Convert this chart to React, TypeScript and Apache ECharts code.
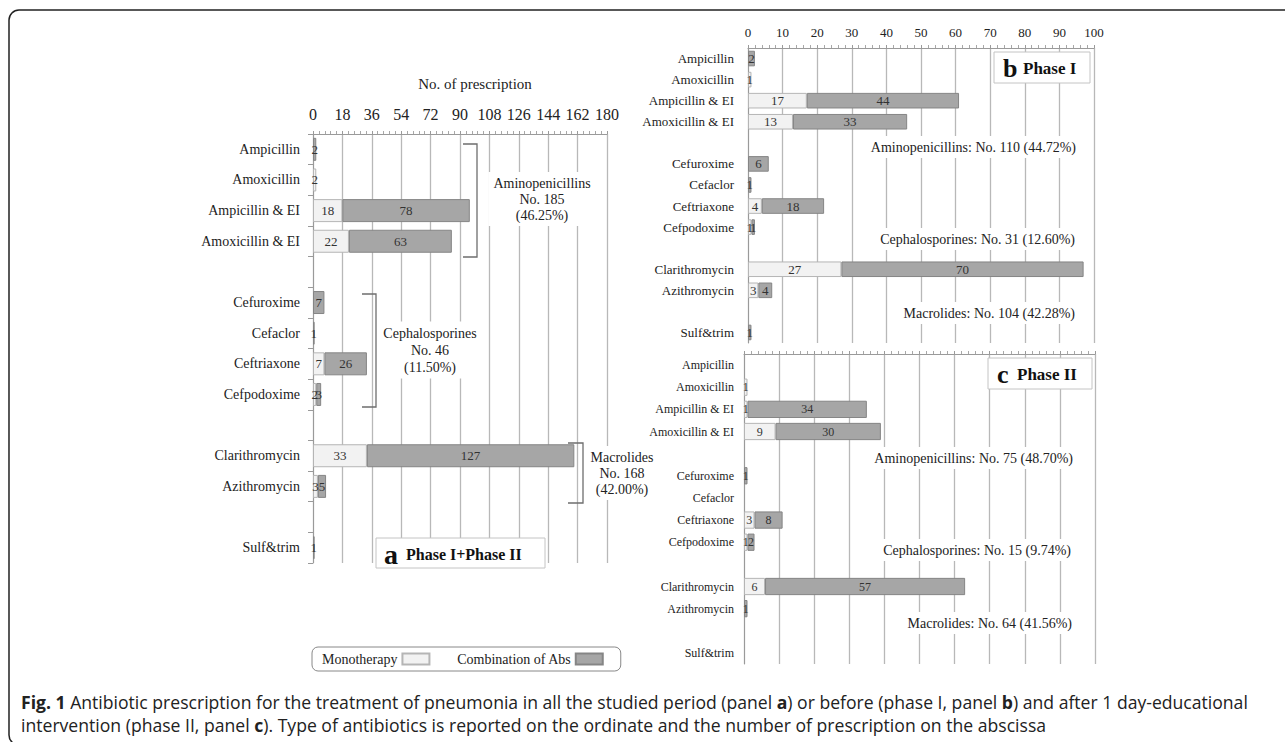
import React, { useEffect, useRef } from "react";
import * as echarts from "echarts";

// ---------- data ----------
const categories = [
  "Ampicillin",
  "Amoxicillin",
  "Ampicillin & EI",
  "Amoxicillin & EI",
  " ",
  "Cefuroxime",
  "Cefaclor",
  "Ceftriaxone",
  "Cefpodoxime",
  "  ",
  "Clarithromycin",
  "Azithromycin",
  "   ",
  "Sulf&trim",
];

const monoA = [null, 2, 18, 22, null, null, null, 7, 2, null, 33, 3, null, null];
const comboA = [2, null, 78, 63, null, 7, 1, 26, 3, null, 127, 5, null, 1];
const monoB = [null, 1, 17, 13, null, null, null, 4, 1, null, 27, 3, null, null];
const comboB = [2, null, 44, 33, null, 6, 1, 18, 1, null, 70, 4, null, 1];
const monoC = [null, 1, 1, 9, null, null, null, 3, 1, null, 6, null, null, null];
const comboC = [null, null, 34, 30, null, 1, null, 8, 2, null, 57, 1, null, null];

const ticksA = { min: 0, max: 180, interval: 18 };
const ticksBC = { min: 0, max: 100, interval: 10 };

const groupTextA = [
  "Aminopenicillins\nNo. 185\n(46.25%)",
  "Cephalosporines\nNo. 46\n(11.50%)",
  "Macrolides\nNo. 168\n(42.00%)",
];
const groupTextB = [
  "Aminopenicillins: No. 110 (44.72%)",
  "Cephalosporines: No. 31 (12.60%)",
  "Macrolides: No. 104 (42.28%)",
];
const groupTextC = [
  "Aminopenicillins: No. 75 (48.70%)",
  "Cephalosporines: No. 15 (9.74%)",
  "Macrolides: No. 64 (41.56%)",
];

// ---------- styles ----------
const SERIF = '"Liberation Serif", "Times New Roman", serif';
const SANS = '"Open Sans", "Noto Sans", sans-serif';
const MONO_COLOR = "#f2f2f2";
const MONO_BORDER = "#b5b5b5";
const COMBO_COLOR = "#a6a6a6";
const COMBO_BORDER = "#858585";
const GRID_LINE = "#b8b8b8";

function xAxis(gridIndex: number, t: any, fontSize: number, margin: number, showLabel: boolean) {
  return {
    gridIndex,
    type: "value",
    position: "top",
    min: t.min,
    max: t.max,
    interval: t.interval,
    axisLabel: { show: showLabel, fontSize, margin, color: "#222", fontFamily: SERIF },
    axisLine: { show: true, lineStyle: { color: "#9a9a9a", width: 1 } },
    axisTick: { show: true, length: 3, lineStyle: { color: "#9a9a9a" } },
    minorTick: { show: true, splitNumber: 5, length: 3, lineStyle: { color: "#a8a8a8" } },
    splitLine: { show: true, lineStyle: { color: GRID_LINE, width: 1.3 } },
  };
}

function yAxis(gridIndex: number, fontSize: number, margin: number, showTick: boolean) {
  return {
    gridIndex,
    type: "category",
    inverse: true,
    data: categories,
    axisLine: { show: true, lineStyle: { color: "#9a9a9a", width: 1 } },
    axisTick: { show: showTick, length: 5, lineStyle: { color: "#9a9a9a" } },
    axisLabel: { fontSize, margin, color: "#222", fontFamily: SERIF, interval: 0 },
    splitLine: { show: false },
  };
}

function barSeries(
  name: string,
  data: (number | null)[],
  idx: number,
  stack: string,
  color: string,
  border: string,
  barWidth: string,
  fontSize: number
) {
  return {
    name,
    type: "bar",
    stack,
    xAxisIndex: idx,
    yAxisIndex: idx,
    data,
    barWidth,
    itemStyle: { color, borderColor: border, borderWidth: 1 },
    label: {
      show: true,
      position: "inside",
      fontSize,
      color: "#333",
      textBorderWidth: 0,
      textBorderColor: "transparent",
      fontFamily: SERIF,
      formatter: (p: any) => (p.value == null ? "" : String(p.value)),
    },
  };
}

function annot(text: string, x: number, y: number, align: string, fontSize: number, lineHeight: number) {
  return {
    type: "text",
    z: 50,
    x,
    y,
    style: {
      text,
      fill: "#222",
      fontSize,
      fontFamily: SERIF,
      lineHeight,
      align,
      verticalAlign: "middle",
      textAlign: align,
      textVerticalAlign: "middle",
      backgroundColor: "#ffffff",
      padding: [3, 5],
    },
  };
}

function panelLabel(x: number, y: number, w: number, h: number, letter: string, phase: string, letterSize: number, phaseSize: number, letterDx: number, phaseDx: number) {
  return [
    {
      type: "rect",
      z: 50,
      shape: { x, y, width: w, height: h },
      style: { fill: "#ffffff", stroke: "#c4c4c4", lineWidth: 1 },
    },
    {
      type: "text",
      z: 51,
      x: x + letterDx,
      y: y + h / 2 + 1,
      style: {
        text: letter,
        fill: "#111",
        fontSize: letterSize,
        fontWeight: "bold",
        fontFamily: SERIF,
        align: "left",
        verticalAlign: "middle",
        textAlign: "left",
        textVerticalAlign: "middle",
      },
    },
    {
      type: "text",
      z: 51,
      x: x + phaseDx,
      y: y + h / 2 + 1,
      style: {
        text: phase,
        fill: "#111",
        fontSize: phaseSize,
        fontWeight: "bold",
        fontFamily: SERIF,
        align: "left",
        verticalAlign: "middle",
        textAlign: "left",
        textVerticalAlign: "middle",
      },
    },
  ];
}

const bracketStyle = { stroke: "#6e6e6e", lineWidth: 1.3, fill: "none" };

const captionStyle = (text: string) => ({
  text,
  fill: "#222",
  fontSize: 17.6,
  lineHeight: 19,
  fontFamily: SANS,
  align: "left",
  verticalAlign: "middle",
  textAlign: "left",
  textVerticalAlign: "middle",
  rich: { b: { fontWeight: "bold", fontSize: 17.6, lineHeight: 19, fontFamily: SANS, fill: "#222" } },
});

const option: any = {
  animation: false,
  backgroundColor: "#ffffff",
  grid: [
    { left: 313, top: 134, width: 294, height: 429 },
    { left: 748, top: 48, width: 346, height: 295 },
    { left: 744, top: 354, width: 351, height: 310 },
  ],
  xAxis: [
    xAxis(0, ticksA, 16, 12, true),
    xAxis(1, ticksBC, 13, 9, true),
    xAxis(2, ticksBC, 13, 9, false),
  ],
  yAxis: [yAxis(0, 14, 13, true), yAxis(1, 13, 14, false), yAxis(2, 12, 10, false)],
  legend: {
    data: ["Monotherapy", "Combination of Abs"],
    left: 312,
    top: 647,
    align: "right",
    icon: "rect",
    itemWidth: 27,
    itemHeight: 11,
    itemGap: 26,
    padding: [5, 17, 5, 10],
    borderColor: "#888",
    borderWidth: 1,
    borderRadius: 6,
    selectedMode: false,
    textStyle: { fontFamily: SERIF, fontSize: 14, color: "#222" },
  },
  series: [
    barSeries("Monotherapy", monoA, 0, "a", MONO_COLOR, MONO_BORDER, "75%", 13),
    barSeries("Combination of Abs", comboA, 0, "a", COMBO_COLOR, COMBO_BORDER, "75%", 13),
    barSeries("Monotherapy", monoB, 1, "b", MONO_COLOR, MONO_BORDER, "74%", 13),
    barSeries("Combination of Abs", comboB, 1, "b", COMBO_COLOR, COMBO_BORDER, "74%", 13),
    barSeries("Monotherapy", monoC, 2, "c", MONO_COLOR, MONO_BORDER, "78%", 12),
    barSeries("Combination of Abs", comboC, 2, "c", COMBO_COLOR, COMBO_BORDER, "78%", 12),
  ],
  graphic: {
    elements: [
      // outer frame
      {
        type: "rect",
        z: 1,
        shape: { x: 9, y: 10, width: 1290, height: 735, r: 10 },
        style: { fill: "none", stroke: "#222", lineWidth: 1.5 },
      },
      // axis title panel a
      {
        type: "text",
        z: 50,
        x: 475,
        y: 84,
        style: {
          text: "No. of prescription",
          fill: "#222",
          fontSize: 15,
          fontFamily: SERIF,
          align: "center",
          verticalAlign: "middle",
          textAlign: "center",
          textVerticalAlign: "middle",
        },
      },
      // brackets panel a
      { type: "polyline", z: 50, shape: { points: [[463, 144], [477, 144], [477, 257], [463, 257]] }, style: bracketStyle },
      { type: "polyline", z: 50, shape: { points: [[362, 294], [376, 294], [376, 407], [362, 407]] }, style: bracketStyle },
      { type: "polyline", z: 50, shape: { points: [[568, 443], [583, 443], [583, 503], [568, 503]] }, style: bracketStyle },
      // group annotations panel a
      annot(groupTextA[0], 542, 199, "center", 14, 16),
      annot(groupTextA[1], 430, 350, "center", 14, 17),
      annot(groupTextA[2], 622, 473, "center", 14, 16),
      // group annotations panel b
      annot(groupTextB[0], 1081, 147, "right", 14, 16),
      annot(groupTextB[1], 1080, 239, "right", 14, 16),
      annot(groupTextB[2], 1080, 313, "right", 14, 16),
      // group annotations panel c
      annot(groupTextC[0], 1078, 458, "right", 14, 16),
      annot(groupTextC[1], 1076, 550, "right", 14, 16),
      annot(groupTextC[2], 1077, 623, "right", 14, 16),
      // panel labels
      ...panelLabel(376, 538, 169, 30, "a", "Phase I+Phase II", 28, 16, 8, 30),
      ...panelLabel(994, 52, 96, 31, "b", "Phase I", 26, 17, 9, 29),
      ...panelLabel(988, 358, 104, 31, "c", "Phase II", 26, 17, 9, 29),
      // caption
      {
        type: "text",
        z: 50,
        x: 21,
        y: 702,
        style: captionStyle(
          "{b|Fig. 1} Antibiotic prescription for the treatment of pneumonia in all the studied period (panel {b|a}) or before (phase I, panel {b|b}) and after 1 day-educational"
        ),
      },
      {
        type: "text",
        z: 50,
        x: 21,
        y: 725,
        style: captionStyle(
          "intervention (phase II, panel {b|c}). Type of antibiotics is reported on the ordinate and the number of prescription on the abscissa"
        ),
      },
    ],
  },
};

export default function App() {
  const ref = useRef<HTMLDivElement>(null);
  useEffect(() => {
    const chart = echarts.init(ref.current!, null, { renderer: "svg" });
    chart.setOption(option);
    return () => chart.dispose();
  }, []);
  return (
    <div
      ref={ref}
      style={{ position: "fixed", left: 0, top: 0, width: 1285, height: 742, background: "#fff" }}
    />
  );
}
